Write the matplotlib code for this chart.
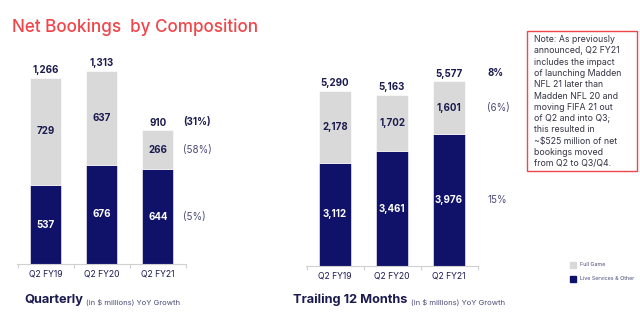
import matplotlib
matplotlib.use("Agg")
import matplotlib.pyplot as plt
from matplotlib.patches import Rectangle

plt.rcParams['font.family'] = ['Inter', 'DejaVu Sans']

# data
periods = ["Q2 FY19", "Q2 FY20", "Q2 FY21"]
q_live = [537, 676, 644]
q_full = [729, 637, 266]
q_total = [1266, 1313, 910]
q_growth = ["(31%)", "(58%)", "(5%)"]      # total, full game, live services
t_live = [3112, 3461, 3976]
t_full = [2178, 1702, 1601]
t_total = [5290, 5163, 5577]
t_growth = ["8%", "(6%)", "15%"]

NAVY = "#10126a"
GRAY = "#d9d9d9"
TXT = "#1b1b4f"
SOFT = "#4b4b78"
RED = "#f0454a"

W, H = 640, 332
fig = plt.figure(figsize=(W / 100, H / 100), dpi=100)


def px_axes(x0, x1, y_top, y_bot):
    return fig.add_axes([x0 / W, 1 - y_bot / H, (x1 - x0) / W, (y_bot - y_top) / H])


def fmt(v):
    return f"{v:,}"


ax1 = px_axes(17, 230, 40, 264)
ax1.set_xlim(-0.51, 3.29)
ax1.set_ylim(0, 1524)
ax2 = px_axes(306, 520, 40, 266)
ax2.set_xlim(-0.51, 3.245)
ax2.set_ylim(0, 6828)

for ax, live, full, total, growth, gx in [
        (ax1, q_live, q_full, q_total, q_growth, 2.45),
        (ax2, t_live, t_full, t_total, t_growth, 2.67)]:
    ymax = ax.get_ylim()[1]
    x = range(len(periods))
    ax.bar(x, live, width=0.56, color=NAVY, edgecolor="white", linewidth=0.4)
    ax.bar(x, full, bottom=live, width=0.56, color=GRAY, edgecolor="white", linewidth=0.4)
    for i in x:
        ax.text(i, live[i] / 2, fmt(live[i]), ha="center", va="center",
                color="white", fontsize=7, fontweight="bold")
        ax.text(i, live[i] + full[i] / 2, fmt(full[i]), ha="center", va="center",
                color=TXT, fontsize=7, fontweight="bold")
        ax.text(i, total[i] + ymax * 0.012, fmt(total[i]), ha="center", va="bottom",
                color=TXT, fontsize=7, fontweight="bold")
    # YoY growth next to the last bar
    n = len(periods) - 1
    top_y = total[n] + ymax * 0.012 + ymax * 0.025
    ax.text(gx, top_y, growth[0], ha="left", va="center", color=TXT,
            fontsize=7, fontweight="bold")
    ax.text(gx, live[n] + full[n] / 2, growth[1], ha="left", va="center",
            color=SOFT, fontsize=7)
    ax.text(gx, live[n] / 2, growth[2], ha="left", va="center",
            color=SOFT, fontsize=7)
    ax.set_xticks(range(len(periods)))
    ax.set_xticklabels(periods, fontsize=6.2, color=TXT)
    ax.set_xticks([-0.5, 0.5, 1.5, 2.5], minor=True)
    ax.tick_params(axis="x", which="major", length=0, pad=4)
    ax.tick_params(axis="x", which="minor", length=3, color="#d0d0d0", width=0.8)
    ax.set_yticks([])
    for s in ["top", "right", "left"]:
        ax.spines[s].set_visible(False)
    ax.spines["bottom"].set_color("#d0d0d0")
    ax.spines["bottom"].set_bounds(-0.51, 2.5)

# title
fig.text(12 / W, 1 - 27 / H, "Net Bookings  by Composition", color=RED,
         fontsize=12.3, fontweight="medium", va="center", ha="left")

# panel captions: bold name followed by small note
for x0, name in [(24, "Quarterly"), (293, "Trailing 12 Months")]:
    t = fig.text(x0 / W, 1 - 303 / H, name, color=TXT, fontsize=9.2,
                 fontweight="bold", va="baseline")
    plt.annotate("(in $ millions) YoY Growth", xy=(1, 0), xycoords=t,
                 xytext=(2.5, 0), textcoords="offset points", color=SOFT,
                 fontsize=5.5, va="bottom", ha="left")

# legend
for y, c, lab in [(265, GRAY, "Full Game"), (279, NAVY, "Live Services & Other")]:
    fig.patches.append(Rectangle((570 / W, 1 - (y + 3) / H), 6 / W, 6 / H,
                                 transform=fig.transFigure, color=c))
    fig.text(580 / W, 1 - y / H, lab, color=SOFT, fontsize=3.9, va="center")

# note box
fig.patches.append(Rectangle((527 / W, 1 - 171 / H), 110 / W, 140 / H,
                             transform=fig.transFigure, fill=False,
                             edgecolor=RED, linewidth=1))
note = ("Note: As previously\nannounced, Q2 FY21\nincludes the impact\n"
        "of launching Madden\nNFL 21 later than\nMadden NFL 20 and\n"
        "moving FIFA 21 out\nof Q2 and into Q3;\nthis resulted in\n"
        "~$525 million of net\nbookings moved\nfrom Q2 to Q3/Q4.")
fig.text(534 / W, 1 - 35 / H, note, color="#333344", fontsize=6.3,
         va="top", ha="left", linespacing=1.33)

fig.savefig("out.png", dpi=100, facecolor="white")
